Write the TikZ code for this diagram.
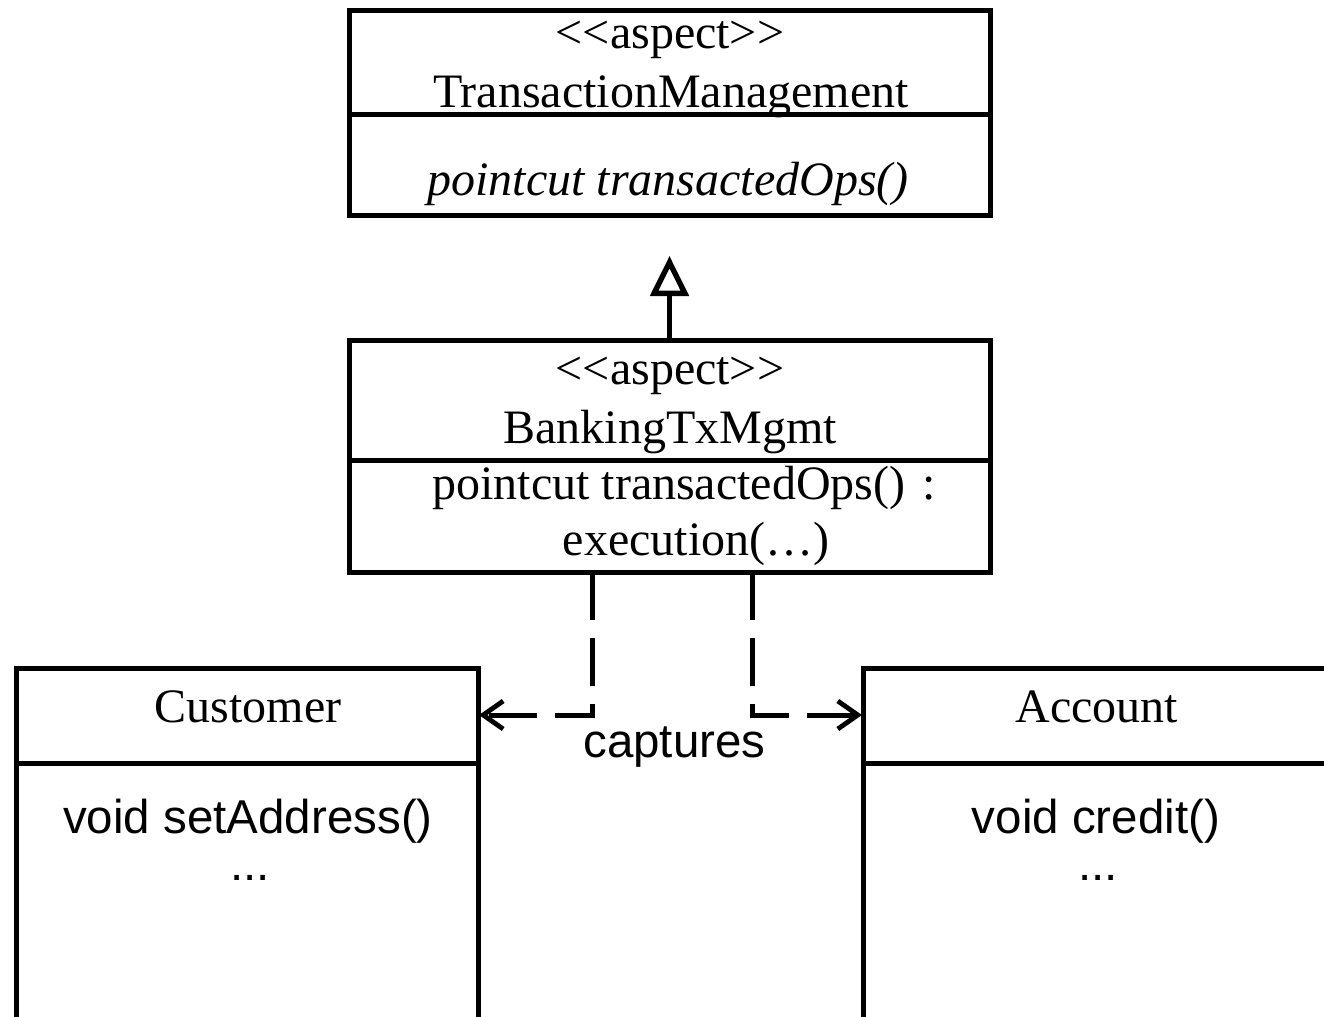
\documentclass[tikz,border=0pt]{standalone}
\usepackage{fontspec}
\setmainfont{Liberation Serif}
\setsansfont{Liberation Sans}
\usetikzlibrary{arrows.meta}
\begin{document}
\begin{tikzpicture}[x=0.5pt,y=-0.5pt,line width=2.5pt,
  serif/.style={font=\fontsize{24}{28}\selectfont,inner sep=0pt,anchor=base},
  sans/.style={font=\sffamily\fontsize{23.75}{28}\selectfont,inner sep=0pt,anchor=base},
  umlbox/.style={draw,line width=2.5pt,rectangle,inner sep=0pt,outer sep=0pt,anchor=north west},
  sep/.style={line width=2.5pt},
  dep/.style={dash pattern=on 24pt off 9pt,
    -{Straight Barb[length=10pt,width=14pt,line width=2.4pt]}},
  gen/.style={-{Triangle[open,length=20pt,width=19pt,line width=2.7pt]}}
]
\useasboundingbox (0,0) rectangle (1324,1017);
\clip (0,0) rectangle (1324,1017);

% boxes
\node[umlbox,minimum width=320.5pt,minimum height=102.5pt] (top) at (349,10) {};
\node[umlbox,minimum width=320.5pt,minimum height=116pt] (mid) at (349,340) {};
\node[umlbox,minimum width=231pt,minimum height=186pt] (cust) at (16,668) {};
\node[umlbox,minimum width=250pt,minimum height=186pt] (acct) at (863,668) {};

% compartment separators
\draw[sep] (top.west |- 0,114) -- (top.east |- 0,114);
\draw[sep] (mid.west |- 0,460) -- (mid.east |- 0,460);
\draw[sep] (cust.west |- 0,763) -- (cust.east |- 0,763);
\draw[sep] (acct.west |- 0,763) -- (acct.east |- 0,763);

% top box texts
\node[serif] (ta) at (670,48) {<{}<aspect>{}>};
\node[serif] (tn) at (671,107) {TransactionManagement};
\node[serif] (tp) at (668,195) {\itshape pointcut transactedOps()};

% middle box texts
\node[serif] (ma) at (670,384) {<{}<aspect>{}>};
\node[serif] (mn) at (670,443) {BankingTxMgmt};
\node[serif] (mp) at (684,499) {pointcut transactedOps()\hspace{0.35em}:};
\node[serif] (me) at (696,555) {execution(…)};

% customer texts
\node[serif] (cn) at (248,722) {Customer};
\node[sans] (cm) at (248,833) {void setAddress()};
\node[sans] (cd) at (250,880) {...};

% account texts
\node[serif] (an) at (1097,722) {Account};
\node[sans] (am) at (1096,833) {void credit()};
\node[sans] (ad) at (1098,880) {...};

% captures label
\node[sans] (cap) at (674.5,757) {captures};

% generalization
\coordinate (tip) at (669.5,256);
\draw[gen] (mid.north) -- (tip);

% dependencies
\coordinate (ml) at (592,572);
\coordinate (mr) at (752,572);
\coordinate (cl) at (479,715);
\coordinate (ar) at (862,715);
\draw[dep] (ml) |- (cl);
\draw[dep] (mr) |- (ar);
\end{tikzpicture}
\end{document}
